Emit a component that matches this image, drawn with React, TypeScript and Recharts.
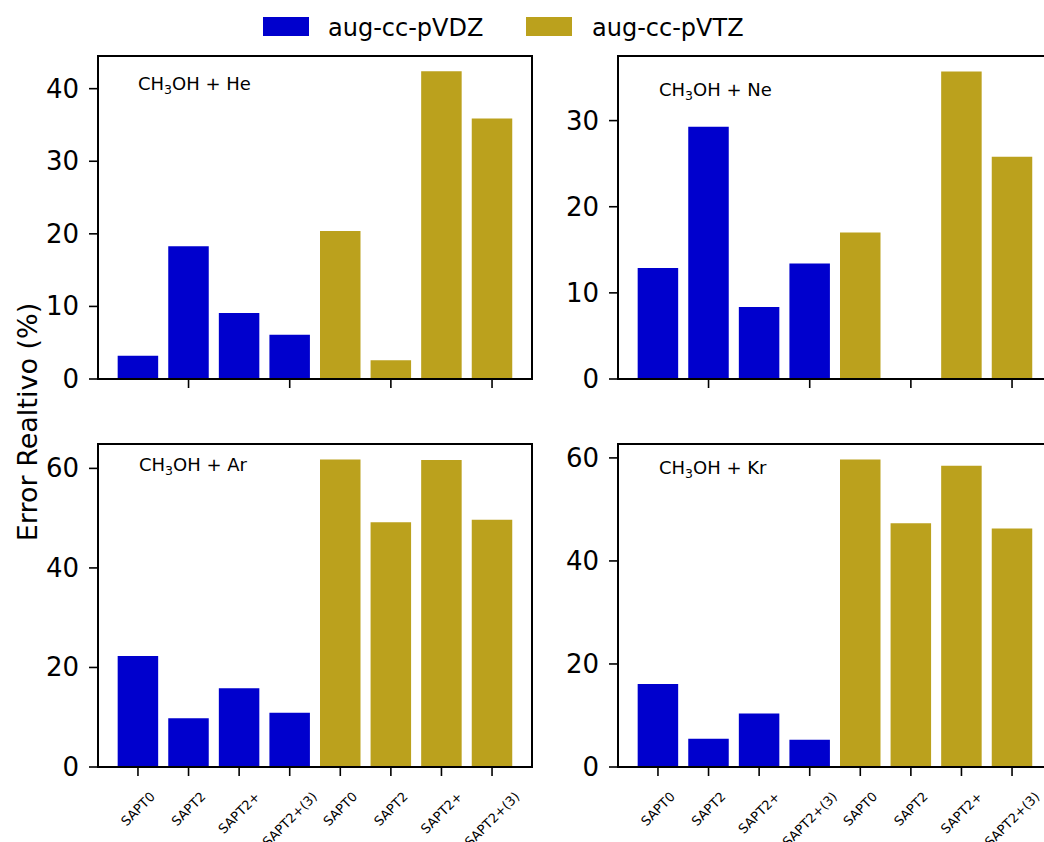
import { BarChart, Bar, XAxis, YAxis, Cell } from 'recharts';

// methods in each basis block
const methods = ['SAPT0', 'SAPT2', 'SAPT2+', 'SAPT2+(3)'];
const basisNames = ['aug-cc-pVDZ', 'aug-cc-pVTZ'];

// relative errors (%) per system, aug-cc-pVDZ then aug-cc-pVTZ
const heDZ = [3.2, 18.3, 9.1, 6.1];
const heTZ = [20.4, 2.6, 42.4, 35.9];
const neDZ = [12.9, 29.3, 8.35, 13.4];
const neTZ = [17.0, 0, 35.7, 25.8];
const arDZ = [22.3, 9.8, 15.8, 10.9];
const arTZ = [61.8, 49.2, 61.7, 49.7];
const krDZ = [16.1, 5.5, 10.4, 5.3];
const krTZ = [59.7, 47.3, 58.5, 46.3];

const heTicks = [0, 10, 20, 30, 40];
const neTicks = [0, 10, 20, 30];
const arTicks = [0, 20, 40, 60];
const krTicks = [0, 20, 40, 60];

const DZ_COLOR = '#0000cd';
const TZ_COLOR = '#bba11d';
const FONT = '"DejaVu Sans", sans-serif';

const PLOT_W = 434;
const PLOT_H = 323;
const Y_W = 70;
const M_TOP = 10;
const M_RIGHT = 10;
const X_H = 110;

type Row = { pos: number; basis: number; value: number };

const buildRows = (dz: number[], tz: number[]): Row[] => [
  ...dz.map((v, i) => ({ pos: i, basis: 0, value: v })),
  ...tz.map((v, i) => ({ pos: i + 4, basis: 1, value: v })),
];

// rough DejaVu Sans advance widths, used to centre rotated labels
const charW: Record<string, number> = {
  S: 0.635, A: 0.684, P: 0.603, T: 0.611, '0': 0.636, '2': 0.636, '3': 0.636,
  '+': 0.838, '(': 0.39, ')': 0.39,
};
const textWidth = (s: string, size: number) =>
  s.split('').reduce((acc, c) => acc + (charW[c] ?? 0.6), 0) * size;

const YTick = (props: any) => {
  const { x, y, payload } = props;
  return (
    <text x={x} y={y} textAnchor="end" dominantBaseline="central" fontSize={26} fontFamily={FONT} fill="#000">
      {payload.value}
    </text>
  );
};

const RotatedTick = (props: any) => {
  const { x, y, payload } = props;
  const label = methods[payload.value % 4];
  const size = 13;
  const half = ((textWidth(label, size) + size * 0.73) * Math.SQRT1_2) / 2;
  return (
    <g transform={`translate(${x},${y + half}) rotate(-45)`}>
      <text x={0} y={0} textAnchor="middle" dominantBaseline="central" fontSize={size} fontFamily={FONT} fill="#000">
        {label}
      </text>
    </g>
  );
};

const NoTick = () => <g />;

type PanelProps = {
  left: number;
  top: number;
  rows: Row[];
  yMax: number;
  yTicks: number[];
  labels: boolean;
};

const Panel = ({ left, top, rows, yMax, yTicks, labels }: PanelProps) => (
  <>
    <div style={{ position: 'absolute', left: left - Y_W, top: top - M_TOP }}>
      <BarChart
        width={Y_W + PLOT_W + M_RIGHT}
        height={M_TOP + PLOT_H + X_H}
        data={rows}
        margin={{ top: M_TOP, right: M_RIGHT, left: 0, bottom: 0 }}
      >
        <XAxis
          type="number"
          dataKey="pos"
          domain={[-0.79, 7.79]}
          ticks={labels ? [0, 1, 2, 3, 4, 5, 6, 7] : [1, 3, 5, 7]}
          axisLine={false}
          tickLine={{ stroke: '#000', strokeWidth: 1.6 }}
          tickSize={9}
          tickMargin={15}
          height={X_H}
          tick={labels ? <RotatedTick /> : <NoTick />}
          interval={0}
        />
        <YAxis
          type="number"
          domain={[0, yMax]}
          ticks={yTicks}
          axisLine={false}
          tickLine={{ stroke: '#000', strokeWidth: 1.6 }}
          tickSize={9}
          tickMargin={10}
          width={Y_W}
          tick={<YTick />}
          interval={0}
        />
        <Bar dataKey="value" barSize={40.5} isAnimationActive={false}>
          {rows.map((r) => (
            <Cell key={r.pos} fill={r.basis === 0 ? DZ_COLOR : TZ_COLOR} />
          ))}
        </Bar>
      </BarChart>
    </div>
    <div
      style={{
        position: 'absolute',
        left: left - 1,
        top: top - 1,
        width: PLOT_W + 2,
        height: PLOT_H + 2,
        border: '2px solid #000',
        boxSizing: 'border-box',
        pointerEvents: 'none',
      }}
    />
  </>
);

const Title = ({ x, y, atom }: { x: number; y: number; atom: string }) => (
  <text x={x} y={y} fontSize={18} fontFamily={FONT} fill="#000">
    CH
    <tspan fontSize={12.5} dy={4}>3</tspan>
    <tspan dy={-4}>OH + {atom}</tspan>
  </text>
);

export default function App() {
  return (
    <div
      style={{
        position: 'absolute',
        left: 0,
        top: 0,
        width: 1044,
        height: 842,
        overflow: 'hidden',
        background: '#fff',
        fontFamily: FONT,
      }}
    >
      <Panel left={98} top={56} rows={buildRows(heDZ, heTZ)} yMax={44.5} yTicks={heTicks} labels={false} />
      <Panel left={618} top={56} rows={buildRows(neDZ, neTZ)} yMax={37.5} yTicks={neTicks} labels={false} />
      <Panel left={98} top={444} rows={buildRows(arDZ, arTZ)} yMax={64.9} yTicks={arTicks} labels />
      <Panel left={618} top={444} rows={buildRows(krDZ, krTZ)} yMax={62.7} yTicks={krTicks} labels />

      <svg width={1044} height={842} style={{ position: 'absolute', left: 0, top: 0, pointerEvents: 'none' }}>
        <rect x={263} y={17} width={46} height={19} fill={DZ_COLOR} />
        <text x={328} y={36} fontSize={24} fontFamily={FONT} fill="#000">{basisNames[0]}</text>
        <rect x={526} y={17} width={46} height={19} fill={TZ_COLOR} />
        <text x={592} y={36} fontSize={24} fontFamily={FONT} fill="#000">{basisNames[1]}</text>

        <text
          transform="translate(37,422) rotate(-90)"
          textAnchor="middle"
          fontSize={27}
          fontFamily={FONT}
          fill="#000"
        >
          Error Realtivo (%)
        </text>

        <Title x={138} y={90} atom="He" />
        <Title x={659} y={96} atom="Ne" />
        <Title x={139} y={471} atom="Ar" />
        <Title x={659} y={474} atom="Kr" />
      </svg>
    </div>
  );
}
